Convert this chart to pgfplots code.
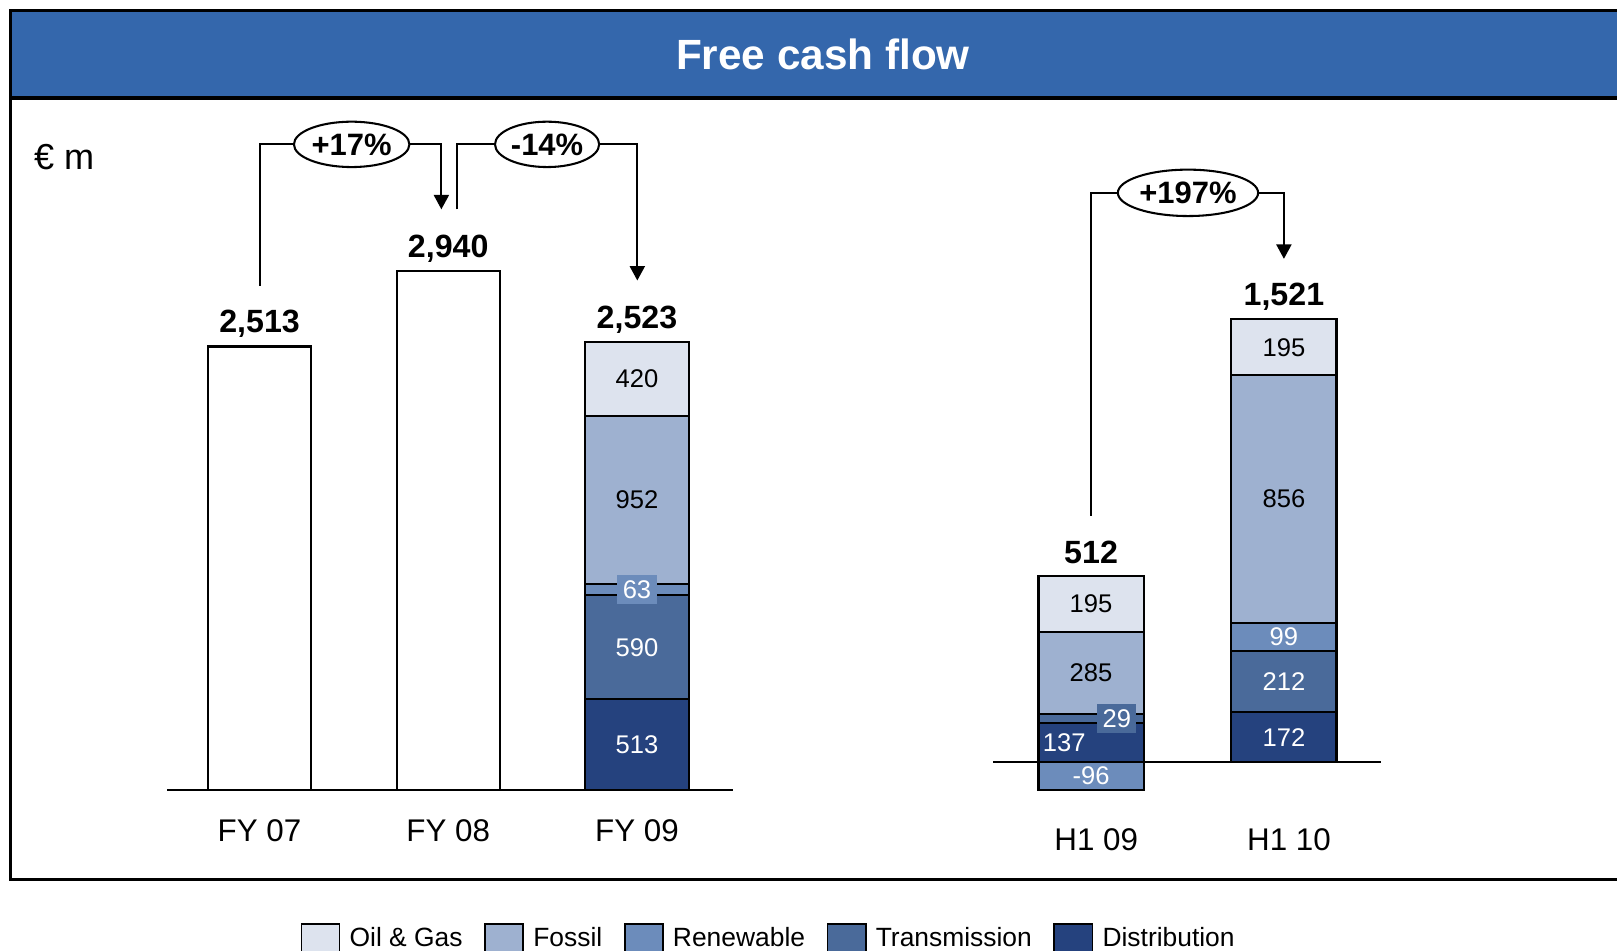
\documentclass[border=0pt]{standalone}
\usepackage{fontspec}
\setmainfont{Liberation Sans}
\usepackage{pgfplots}
\pgfplotsset{compat=1.18}
\usetikzlibrary{arrows.meta,shapes.geometric}

\definecolor{oilgas}{RGB}{221,227,238}
\definecolor{fossil}{RGB}{158,177,208}
\definecolor{renew}{RGB}{108,140,187}
\definecolor{trans}{RGB}{74,106,154}
\definecolor{dist}{RGB}{37,66,126}
\definecolor{titlebl}{RGB}{52,103,172}

\newcommand{\fs}[1]{\fontsize{#1}{#1}\selectfont}

\pgfplotsset{
  boxleg/.style={legend image code/.code={\draw[##1,line width=0.8pt] (0pt,-11pt) rectangle (18.5pt,7pt);}},
  seg/.style={draw=black, line width=1pt, boxleg},
  fygeom/.style={at={(FYorig)}, anchor=south west, x=91.5pt, y=0.08556pt,
    xmin=-0.49, xmax=2.51, ymin=0, ymax=3000, clip=false},
  h1geom/.style={at={(H1orig)}, anchor=south west, x=93.5pt, y=0.14pt,
    xmin=-0.508, xmax=1.503, ymin=-100, ymax=1600, clip=false},
}
\tikzset{
  lab/.style={font=\fs{12.4}, inner sep=2.6pt},
  tot/.style={font=\bfseries\fs{15.6}},
  pct/.style={draw, ellipse, line width=1pt, inner sep=0pt, font=\bfseries\fs{15}},
  conn/.style={line width=1pt},
  arr/.style={-{Triangle[length=7pt,width=7.3pt]}},
}

\begin{document}
\begin{tikzpicture}[x=0.5pt,y=0.5pt]
\useasboundingbox (0,0) rectangle (1568,922);
\coordinate (FYorig) at (162,156);
\coordinate (H1orig) at (963,155);
% frame and title bar
\fill[titlebl] (10,827) rectangle (1568,912);
\draw[line width=1.5pt] (1568,912) -- (10,912) -- (10,69) -- (1568,69);
\draw[line width=1.5pt] (10,827) -- (1568,827);
\node[text=white, font=\bfseries\fs{20.5}] at (798,869) {Free cash flow};
\node[anchor=west, font=\fs{17.5}] at (26,770) {€ m};

% full years
\begin{axis}[
  fygeom,
  ybar stacked, bar width=50pt,
  axis x line*=bottom, axis y line=none,
  axis line style={line width=0.75pt,-},
  xtick={0,1,2}, xticklabels={FY 07,FY 08,FY 09},
  major tick length=0pt,
  xticklabel style={font=\fs{15.2}, anchor=center, yshift=-20pt},
  reverse legend,
  legend columns=5,
  legend style={at={(0.235,-0.2513)}, anchor=north west, draw=none, fill=none,
    inner sep=0pt, font=\fs{12.8}, /tikz/column sep=2.5pt,
    /tikz/every even column/.append style={column sep=8.5pt}},
]
\addplot[fill=white, draw=black, line width=1pt, forget plot] coordinates {(0,2513) (1,2940) (2,0)};
\addplot[seg, fill=dist] coordinates {(0,0) (1,0) (2,513)};
\addplot[seg, fill=trans] coordinates {(0,0) (1,0) (2,590)};
\addplot[seg, fill=renew] coordinates {(0,0) (1,0) (2,63)};
\addplot[seg, fill=fossil] coordinates {(0,0) (1,0) (2,952)};
\addplot[seg, fill=oilgas] coordinates {(0,0) (1,0) (2,420)};
\legend{Distribution,Transmission,Renewable,Fossil,Oil \& Gas}
\end{axis}
% labels for the full years, drawn over the stacked bars
\begin{axis}[fygeom, hide axis]
\node[lab, text=white] at (axis cs:2,256.5) {513};
\node[lab, text=white] at (axis cs:2,808) {590};
\node[lab, text=white, fill=renew] at (axis cs:2,1134.5) {63};
\node[lab] at (axis cs:2,1642) {952};
\node[lab] at (axis cs:2,2328) {420};
\node[tot, yshift=11pt] at (axis cs:0,2513) {2,513};
\node[tot, yshift=11pt] at (axis cs:1,2940) {2,940};
\node[tot, yshift=11pt] at (axis cs:2,2538) {2,523};
\end{axis}

% half years
\begin{axis}[
  h1geom,
  ybar stacked, bar width=51pt,
  axis x line=middle, axis y line=none,
  axis line style={line width=0.75pt,-},
  xtick={0,1}, xticklabels={H1 09,H1 10},
  major tick length=0pt,
  xticklabel style={font=\fs{15.2}, anchor=center, yshift=-37.5pt, xshift=2.5pt},
]
\addplot[seg, fill=dist] coordinates {(0,137) (1,172)};
\addplot[seg, fill=trans] coordinates {(0,29) (1,212)};
\addplot[seg, fill=renew] coordinates {(0,0) (1,99)};
\addplot[seg, fill=fossil] coordinates {(0,285) (1,856)};
\addplot[seg, fill=oilgas] coordinates {(0,195) (1,195)};
\end{axis}
\begin{axis}[h1geom, ybar, bar width=51pt, hide axis]
\addplot[seg, fill=renew, bar shift=0pt] coordinates {(0,-96)};
\node[lab, text=white] at (axis cs:0,-48) {-96};
\node[lab, text=white] at (axis cs:0,68) [xshift=-13pt] {137};
\node[lab, text=white, fill=trans] at (axis cs:0,150) [xshift=12.5pt] {29};
\node[lab] at (axis cs:0,308.5) {285};
\node[lab] at (axis cs:0,548.5) {195};
\node[lab, text=white] at (axis cs:1,86) {172};
\node[lab, text=white] at (axis cs:1,278) {212};
\node[lab, text=white] at (axis cs:1,433.5) {99};
\node[lab] at (axis cs:1,911) {856};
\node[lab] at (axis cs:1,1436.5) {195};
\node[tot, yshift=11pt] at (axis cs:0,646) {512};
\node[tot, yshift=11pt] at (axis cs:1,1534) {1,521};
\end{axis}

% change annotations
\draw[conn] (252,645) -- (252,782) -- (285,782);
\node[pct, minimum width=56pt, minimum height=22pt] at (341,782) {+17\%};
\draw[conn, arr] (397,782) -- (428,782) -- (428,719);
\draw[conn] (443,719) -- (443,782) -- (480,782);
\node[pct, minimum width=50.5pt, minimum height=22pt] at (530.5,782) {-14\%};
\draw[conn, arr] (581,782) -- (618,782) -- (618,650);
\draw[conn] (1058,422) -- (1058,735) -- (1084,735);
\node[pct, minimum width=68pt, minimum height=22.5pt] at (1152,735) {+197\%};
\draw[conn, arr] (1220,735) -- (1245,735) -- (1245,671);
\end{tikzpicture}
\end{document}
